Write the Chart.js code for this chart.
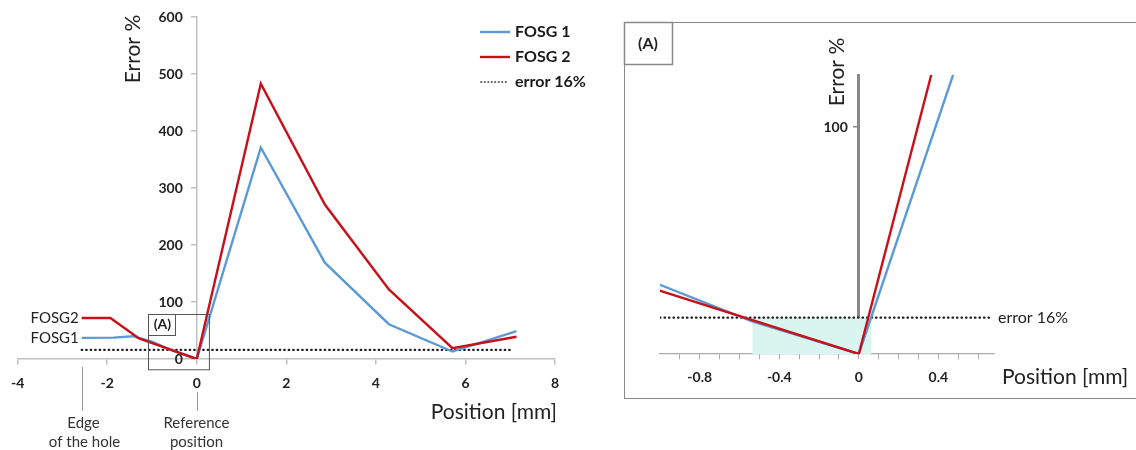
<!DOCTYPE html>
<html>
<head>
<meta charset="utf-8">
<script src="https://cdn.jsdelivr.net/npm/chart.js@4.4.1/dist/chart.umd.min.js"></script>
<style>
  html, body { margin: 0; padding: 0; background: #fff; overflow: hidden; width: 1136px; height: 450px; }
  #main { position: absolute; left: 0; top: 0; width: 610px; height: 450px; }
  #zoom { position: absolute; left: 620px; top: 0; width: 516px; height: 450px; }
  #frame { position: absolute; left: 624px; top: 22px; width: 560px; height: 375px;
    border: 1.5px solid #8a8a8a; border-right: none; }
</style>
</head>
<body>
<div id="frame"></div>
<div id="main"><canvas id="chartMain"></canvas></div>
<div id="zoom"><canvas id="chartZoom"></canvas></div>
<script>
// Dữ liệu
var fosg1Pos = [-2.57, -1.86, -1.43, -1.0, -0.54, 0, 1.43, 2.86, 4.29, 5.71, 7.14];
var fosg1Err = [37, 37.5, 40, 30.5, 14.5, 0, 371, 169, 61, 13, 49];
var fosg2Pos = [-2.57, -1.93, -1.29, 0, 1.43, 2.86, 4.29, 5.71, 7.14];
var fosg2Err = [72, 72, 36, 0, 483, 271, 122, 19, 39];
var errorLimit = 16;
var errorSpanMain = [-2.57, 7.05];
var errorSpanZoom = [-1.0, 0.67];
var shadeX = [-0.535, 0.063];
var boxAX = [-1.08, 0.28];
var boxAY = [-18, 79];
var edgePos = -2.57;
var refPos = 0;

var mainXTicks = [-4, -2, 0, 2, 4, 6, 8];
var mainYTicks = [0, 100, 200, 300, 400, 500, 600];
var zoomXTicks = [-0.9, -0.8, -0.7, -0.6, -0.5, -0.4, -0.3, -0.2, -0.1, 0, 0.1, 0.2, 0.3, 0.4, 0.5, 0.6];
var zoomXLabels = [-0.8, -0.4, 0, 0.4];
var zoomYTicks = [100];

var legendLabels = ["FOSG 1", "FOSG 2", "error 16%"];

var BLUE = "#5b9bd5";
var RED = "#c8101a";
var FONT = "Lato";

function pts(xs, ys) {
  return xs.map(function (x, i) { return { x: x, y: ys[i] }; });
}

function lineSet(label, data, color) {
  return { label: label, data: data, borderColor: color, backgroundColor: color,
    borderWidth: 2.4, pointRadius: 0, tension: 0, fill: false };
}

function dotSet(data) {
  return { label: "error 16%", data: data, borderColor: "#1a1a1a", borderWidth: 2.2,
    borderDash: [0.5, 4], borderCapStyle: "round", pointRadius: 0, fill: false };
}

function text(ctx, s, x, y, font, align, color) {
  ctx.font = font;
  ctx.textAlign = align || "center";
  ctx.textBaseline = "middle";
  ctx.fillStyle = color || "#222";
  ctx.fillText(s, x, y);
}

// nhãn trục y vẽ tay (Chart.js đặt nhãn sát trục khi position là object)
function yLabels(ctx, xs, ys, gap) {
  var ax = xs.getPixelForValue(0);
  ys.ticks.forEach(function (t) {
    text(ctx, String(t.value), ax - gap, ys.getPixelForValue(t.value), "bold 14px " + FONT, "right", "#222");
  });
}

// Biểu đồ chính
var mainDecor = {
  id: "mainDecor",
  afterDraw: function (chart) {
    var ctx = chart.ctx, xs = chart.scales.x, ys = chart.scales.y;
    ctx.save();

    yLabels(ctx, xs, ys, 14);

    // khung (A)
    var ax0 = xs.getPixelForValue(boxAX[0]), ax1 = xs.getPixelForValue(boxAX[1]);
    var ay0 = ys.getPixelForValue(boxAY[1]), ay1 = ys.getPixelForValue(boxAY[0]);
    ctx.strokeStyle = "#555";
    ctx.lineWidth = 1;
    ctx.strokeRect(Math.round(ax0) + 0.5, Math.round(ay0) + 0.5, ax1 - ax0, ay1 - ay0);
    ctx.strokeRect(Math.round(ax0) + 0.5, Math.round(ay0) + 0.5, 27, 21);
    text(ctx, "(A)", ax0 + 14, ay0 + 11, "bold 14px " + FONT);

    // nhãn đầu đường
    text(ctx, "FOSG2", xs.getPixelForValue(fosg2Pos[0]) - 3, ys.getPixelForValue(fosg2Err[0]), "15px " + FONT, "right", "#222");
    text(ctx, "FOSG1", xs.getPixelForValue(fosg1Pos[0]) - 3, ys.getPixelForValue(fosg1Err[0]), "15px " + FONT, "right", "#222");

    // tiêu đề trục
    ctx.save();
    ctx.translate(133, 49);
    ctx.rotate(-Math.PI / 2);
    text(ctx, "Error %", 0, 0, "21px " + FONT, "center", "#222");
    ctx.restore();
    text(ctx, "Position [mm]", xs.right + 2, 412, "21px " + FONT, "right", "#222");

    // chú thích
    var lx = 480, ly = [32, 57, 82];
    [BLUE, RED].forEach(function (c, i) {
      ctx.strokeStyle = c;
      ctx.lineWidth = 2.4;
      ctx.beginPath();
      ctx.moveTo(lx, ly[i]);
      ctx.lineTo(lx + 30, ly[i]);
      ctx.stroke();
    });
    ctx.strokeStyle = "#222";
    ctx.lineWidth = 1.6;
    ctx.setLineDash([0.5, 3]);
    ctx.lineCap = "round";
    ctx.beginPath();
    ctx.moveTo(lx + 1, ly[2]);
    ctx.lineTo(lx + 28, ly[2]);
    ctx.stroke();
    ctx.setLineDash([]);
    ctx.lineCap = "butt";
    legendLabels.forEach(function (s, i) {
      text(ctx, s, lx + 35, ly[i], "bold 16px " + FONT, "left", "#1a1a1a");
    });

    // đường đánh dấu dưới trục
    var ex = Math.round(xs.getPixelForValue(edgePos)) + 0.5;
    var rx = Math.round(xs.getPixelForValue(refPos)) + 0.5;
    ctx.strokeStyle = "#999";
    ctx.lineWidth = 1;
    ctx.beginPath();
    ctx.moveTo(ex, 367); ctx.lineTo(ex, 411);
    ctx.moveTo(rx, 392); ctx.lineTo(rx, 411);
    ctx.stroke();
    text(ctx, "Edge", ex + 1, 423, "15px " + FONT, "center", "#333");
    text(ctx, "of the hole", ex + 2, 442, "15px " + FONT, "center", "#333");
    text(ctx, "Reference", rx - 1, 423, "15px " + FONT, "center", "#333");
    text(ctx, "position", rx - 1, 442, "15px " + FONT, "center", "#333");

    ctx.restore();
  }
};

new Chart(document.getElementById("chartMain").getContext("2d"), {
  type: "line",
  data: {
    datasets: [
      lineSet("FOSG 2", pts(fosg2Pos, fosg2Err), RED),
      lineSet("FOSG 1", pts(fosg1Pos, fosg1Err), BLUE),
      dotSet(pts(errorSpanMain, [errorLimit, errorLimit]))
    ]
  },
  options: {
    responsive: true,
    maintainAspectRatio: false,
    animation: false,
    layout: { padding: { left: 17, right: 55, top: 17, bottom: 91 } },
    plugins: { legend: { display: false }, tooltip: { enabled: false } },
    scales: {
      x: {
        type: "linear", position: { y: 0 }, min: -4, max: 8,
        afterBuildTicks: function (s) { s.ticks = mainXTicks.map(function (v) { return { value: v }; }); },
        grid: { drawOnChartArea: false, drawTicks: true, tickLength: 5, color: "#c0c0c0", lineWidth: 1.5 },
        border: { color: "#c0c0c0", width: 1.5 },
        ticks: { font: { family: FONT, weight: "bold", size: 14 }, color: "#222", padding: 11, maxRotation: 0, autoSkip: false }
      },
      y: {
        type: "linear", position: { x: 0 }, min: 0, max: 600,
        afterBuildTicks: function (s) { s.ticks = mainYTicks.map(function (v) { return { value: v }; }); },
        grid: { drawOnChartArea: false, drawTicks: true, tickLength: 5, color: "#c0c0c0", lineWidth: 1.5 },
        border: { color: "#c0c0c0", width: 1.5 },
        ticks: { callback: function () { return ""; } }
      }
    }
  },
  plugins: [mainDecor]
});

// Biểu đồ phóng to (A)
var zoomDecor = {
  id: "zoomDecor",
  beforeDatasetsDraw: function (chart) {
    var ctx = chart.ctx, xs = chart.scales.x, ys = chart.scales.y;
    var x0 = xs.getPixelForValue(shadeX[0]), x1 = xs.getPixelForValue(shadeX[1]);
    var y0 = ys.getPixelForValue(errorLimit), y1 = ys.getPixelForValue(0);
    ctx.save();
    ctx.fillStyle = "#d8f5ef";
    ctx.fillRect(x0, y0, x1 - x0, y1 - y0);
    ctx.restore();
  },
  afterDraw: function (chart) {
    var ctx = chart.ctx, xs = chart.scales.x, ys = chart.scales.y;
    ctx.save();
    yLabels(ctx, xs, ys, 11);

    // ô nhãn (A)
    ctx.strokeStyle = "#8a8a8a";
    ctx.lineWidth = 1.5;
    ctx.strokeRect(4.5, 22.5, 48, 42);
    text(ctx, "(A)", 28, 44, "bold 16px " + FONT, "center", "#222");

    ctx.save();
    ctx.translate(217, 72);
    ctx.rotate(-Math.PI / 2);
    text(ctx, "Error %", 0, 0, "21px " + FONT, "center", "#222");
    ctx.restore();

    text(ctx, "error 16%", xs.getPixelForValue(errorSpanZoom[1]) + 6, ys.getPixelForValue(errorLimit), "16px " + FONT, "left", "#222");
    text(ctx, "Position [mm]", 382, 377, "21px " + FONT, "left", "#222");
    ctx.restore();
  }
};

new Chart(document.getElementById("chartZoom").getContext("2d"), {
  type: "line",
  data: {
    datasets: [
      lineSet("FOSG 2", pts(fosg2Pos, fosg2Err), RED),
      lineSet("FOSG 1", pts(fosg1Pos, fosg1Err), BLUE),
      dotSet(pts(errorSpanZoom, [errorLimit, errorLimit]))
    ]
  },
  options: {
    responsive: true,
    maintainAspectRatio: false,
    animation: false,
    layout: { padding: { left: 40, right: 142, top: 75, bottom: 96 } },
    plugins: { legend: { display: false }, tooltip: { enabled: false } },
    scales: {
      x: {
        type: "linear", position: { y: 0 }, min: -1.0, max: 0.68,
        afterBuildTicks: function (s) { s.ticks = zoomXTicks.map(function (v) { return { value: v }; }); },
        grid: { drawOnChartArea: false, drawTicks: true, tickLength: 5, color: "#aaa", lineWidth: 1 },
        border: { color: "#aaa", width: 1.2 },
        ticks: {
          font: { family: FONT, weight: "bold", size: 14 }, color: "#222", padding: 10, maxRotation: 0, autoSkip: false,
          callback: function (v) {
            return zoomXLabels.some(function (l) { return Math.abs(l - v) < 1e-6; }) ? String(Math.round(v * 10) / 10) : "";
          }
        }
      },
      y: {
        type: "linear", position: { x: 0 }, min: 0, max: 123,
        afterBuildTicks: function (s) { s.ticks = zoomYTicks.map(function (v) { return { value: v }; }); },
        grid: { drawOnChartArea: false, drawTicks: true, tickLength: 4, color: "#888", lineWidth: 1.5 },
        border: { color: "#888", width: 3 },
        ticks: { callback: function () { return ""; } }
      }
    }
  },
  plugins: [zoomDecor]
});
</script>
</body>
</html>
